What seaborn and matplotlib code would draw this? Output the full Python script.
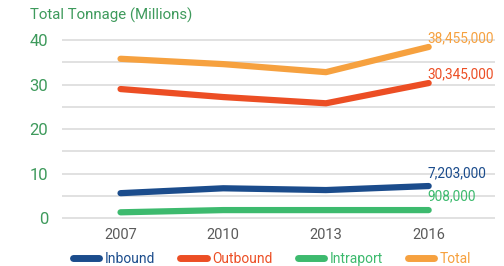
import matplotlib
matplotlib.use("Agg")
import matplotlib.pyplot as plt
import seaborn as sns
import pandas as pd
from matplotlib.lines import Line2D

years = ["2007", "2010", "2013", "2016"]
inbound = [5.6, 6.7, 6.3, 7.203]
outbound = [29.0, 27.2, 25.8, 30.345]
intraport = [1.3, 1.8, 1.8, 1.8]
total = [35.8, 34.6, 32.8, 38.455]
series_names = ["Inbound", "Outbound", "Intraport", "Total"]
end_labels = ["7,203,000", "30,345,000", "908,000", "38,455,000"]
colors = ["#1b4c8c", "#ec4e24", "#3dba6e", "#f6a13f"]

df = pd.DataFrame({
    "Year": years * 4,
    "Series": sum([[s] * 4 for s in series_names], []),
    "Value": inbound + outbound + intraport + total,
})
df["x"] = df["Year"].map({y: i for i, y in enumerate(years)})

sns.set_theme(style="white")
plt.rcParams['font.family'] = ['Roboto', 'DejaVu Sans']

fig = plt.figure(figsize=(5.04, 2.66), dpi=100)
ax = fig.add_axes([0.123, 0.155, 0.86, 0.711])

sns.lineplot(data=df, x="x", y="Value", hue="Series", hue_order=series_names,
             palette=colors, linewidth=4.5, ax=ax, legend=False,
             solid_capstyle="round")

ax.set_xlim(-0.57, 3.65)
ax.set_ylim(-1.5, 41)
ax.set_yticks([0, 10, 20, 30, 40])
ax.set_yticks([5, 15, 25, 35], minor=True)
ax.grid(True, which="both", axis="y", color="#dcdcdc", linewidth=1.2)
ax.set_axisbelow(True)
ax.set_xticks(range(len(years)))
ax.set_xticklabels(years)
for s in ax.spines.values():
    s.set_visible(False)
ax.tick_params(axis="y", which="both", colors="#3e9a5c", labelsize=12, length=0, pad=10)
ax.tick_params(axis="x", colors="#5a5a5a", labelsize=10.5, length=0, pad=2.5)
ax.set_xlabel("")
ax.set_ylabel("")

vals = [inbound, outbound, intraport, total]
offs = [2.0, 1.15, 2.2, 1.1]
for v, lab, c, o in zip(vals, end_labels, colors, offs):
    ax.text(2.99, v[-1] + o, lab, color=c, fontsize=9.8, ha="left", va="baseline")

fig.text(0.06, 0.97, "Total Tonnage (Millions)", color="#3e9a5c", fontsize=10.8,
         ha="left", va="top")

handles = [Line2D([0], [0], color=c, lw=5, solid_capstyle="round") for c in colors]
leg = fig.legend(handles, series_names, loc="center", ncol=4,
                 bbox_to_anchor=(0.54, 0.028), frameon=False, fontsize=10,
                 handlelength=1.9, columnspacing=1.8, handletextpad=0.4,
                 borderpad=0, borderaxespad=0)
for t, c in zip(leg.get_texts(), colors):
    t.set_color(c)

fig.savefig("out.png", dpi=100)
